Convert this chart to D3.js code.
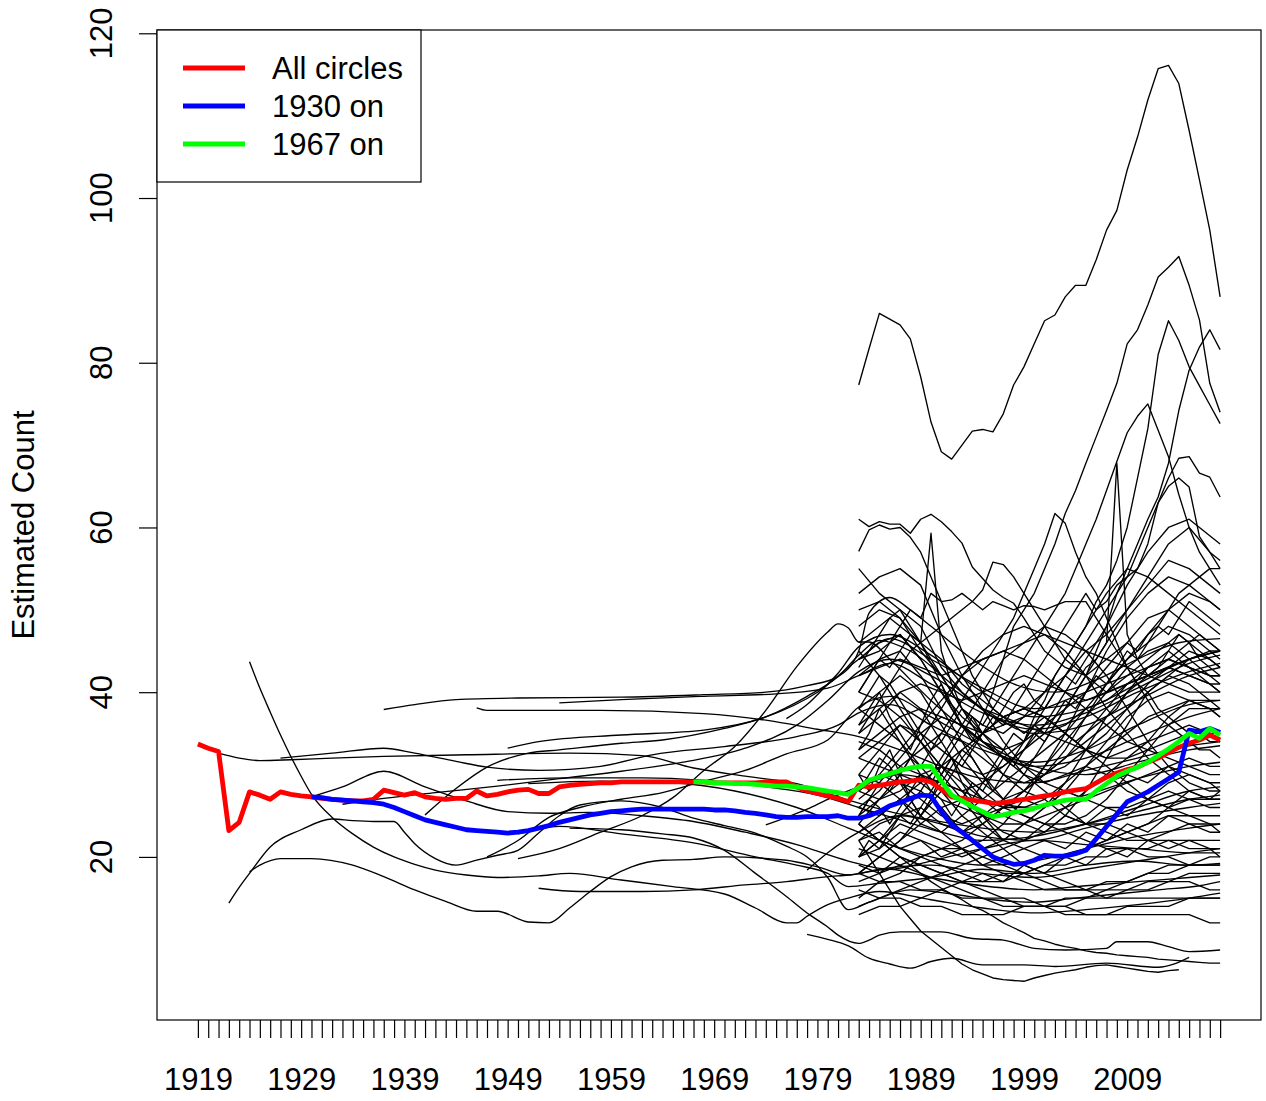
<!DOCTYPE html>
<html><head><meta charset="utf-8">
<script src="https://cdn.jsdelivr.net/npm/d3@7"></script>
<style>
body{margin:0;background:#fff}
svg{display:block}
text{font-family:"Liberation Sans",Arial,Helvetica,sans-serif;fill:#000}
</style>
</head><body>
<svg id="chart" width="1266" height="1101"></svg>
<script>
// ---------------- DATA ----------------
const yearTicks = d3.range(1919, 2019);
const yearLabels = [1919,1929,1939,1949,1959,1969,1979,1989,1999,2009];
const valueTicks = [20,40,60,80,100,120];
const legendLabels = ["All circles","1930 on","1967 on"];

const redStart = 1919;
const redValues = [
 33.7,33.2,32.8,23.2,24.2,27.9,27.5,27.0,27.9,27.6,
 27.4,27.3,27.1,27.0,26.9,26.8,26.8,27.0,28.1,27.8,
 27.5,27.8,27.3,27.1,27.0,27.1,27.1,28.0,27.4,27.6,
 27.9,28.1,28.2,27.7,27.7,28.5,28.7,28.8,28.9,29.0,
 29.0,29.1,29.1,29.1,29.1,29.1,29.1,29.1,29.1,29.1,
 29.0,29.0,29.0,29.0,29.0,29.1,29.1,29.1,28.5,28.0,
 27.7,27.4,27.1,26.7,28.7,28.5,28.7,28.9,29.1,29.2,
 29.4,29.1,28.2,27.3,27.1,26.9,26.7,26.5,26.6,26.8,
 27.0,27.2,27.4,27.6,27.9,28.1,28.3,29.0,29.7,30.2,
 30.6,30.9,31.5,32.0,32.7,33.3,33.8,34.2,34.8,34.2];

const blueStart = 1930;
const blueValues = [
 27.3,27.2,27.0,26.9,26.8,26.7,26.6,26.4,26.0,25.5,
 25.0,24.5,24.2,23.9,23.6,23.3,23.2,23.1,23.0,22.9,
 23.0,23.2,23.5,23.8,24.2,24.5,24.8,25.1,25.3,25.5,
 25.6,25.7,25.8,25.8,25.8,25.8,25.8,25.8,25.8,25.7,
 25.7,25.6,25.4,25.3,25.1,24.9,24.8,24.8,24.9,24.9,
 24.9,25.0,24.7,24.7,25.0,25.5,26.2,26.6,27.1,27.5,
 27.4,25.5,23.9,23.0,22.0,21.0,20.0,19.5,19.1,19.2,
 19.6,20.2,20.1,20.1,20.4,20.8,22.2,23.7,25.2,26.7,
 27.3,27.9,28.7,29.5,30.3,35.4,35.2,35.6,35.1];

const greenStart = 1967;
const greenValues = [
 29.1,29.1,29.0,29.0,28.9,28.9,28.8,28.7,28.6,28.6,
 28.5,28.4,28.2,28.0,27.8,27.6,28.4,29.3,29.7,30.1,
 30.5,30.8,31.0,31.0,29.2,27.5,26.8,26.1,25.5,24.9,
 25.1,25.4,25.6,25.9,26.3,26.6,26.9,27.0,27.0,28.0,
 28.9,29.8,30.4,30.9,31.5,32.3,33.1,34.0,35.0,34.4,
 35.6,34.8];

// long-running circles: [year, value] readings (smooth curves)
const longCircles = [
 [[1924,43.7],[1925,40.5],[1926,37.6],[1927,34.8],[1928,32.2],[1929,29.8],[1930,27.6],[1932,24.8],[1934,22.8],[1936,21.2],[1938,20.0],[1940,19.1],[1942,18.4],[1945,17.8],[1948,17.5],[1952,17.7],[1955,18.0],[1960,17.2],[1965,16.4],[1970,15.5],[1973,13.8],[1976,12.0],[1977,12.0],[1978,12.8],[1980,14.2],[1982,15.0],[1985,15.8],[1990,14.8],[1995,13.8],[2000,13.2],[2005,13.6],[2010,14.2],[2015,15.0],[2018,15.6]],
 [[1922,14.4],[1923,16.3],[1924,18.0],[1926,21.2],[1929,23.3],[1932,24.6],[1934,24.4],[1936,24.3],[1938,24.3],[1939,23.0],[1940,21.6],[1942,19.8],[1944,19.0],[1946,19.6],[1948,20.2],[1950,20.8],[1952,22.9],[1954,25.0],[1956,26.3],[1960,26.8],[1964,26.0],[1967,24.7],[1970,23.8],[1973,22.9],[1976,21.3],[1978,20.0],[1980,17.5],[1982,13.6],[1984,14.5],[1988,16.0],[1992,15.5],[1996,14.8],[2000,14.5],[2004,15.0],[2008,15.5],[2012,16.0],[2016,16.5],[2018,17.0]],
 [[1924,18.2],[1925,19.0],[1927,19.8],[1930,19.8],[1934,19.0],[1937,17.6],[1940,16.0],[1943,14.6],[1946,13.4],[1948,13.4],[1951,12.1],[1953,12.0],[1955,13.8],[1957,15.8],[1959,17.6],[1961,18.8],[1964,19.6],[1967,19.7],[1970,20.0],[1976,19.6],[1979,18.8],[1982,17.8],[1985,18.5],[1990,19.0],[1995,18.0],[2000,17.5],[2005,18.5],[2010,19.5],[2015,20.5],[2018,21.0]],
 [[1921,32.6],[1923,32.0],[1925,31.7],[1928,31.8],[1932,32.0],[1937,32.2],[1945,32.4],[1955,32.6],[1962,32.3],[1967,30.8],[1972,29.8],[1977,28.9],[1982,26.9],[1986,25.5],[1990,24.5],[1995,23.5],[2000,23.0],[2005,24.0],[2010,25.5],[2015,27.0],[2018,27.5]],
 [[1927,32.0],[1932,32.6],[1937,33.2],[1940,32.6],[1944,31.6],[1947,30.9],[1952,30.5],[1958,31.0],[1963,32.4],[1970,33.4],[1977,34.6],[1981,36.0],[1983,37.5],[1986,38.5],[1990,36.0],[1995,33.0],[2000,31.5],[2005,33.0],[2010,36.0],[2015,38.5],[2018,39.0]],
 [[1930,27.3],[1933,28.5],[1937,30.4],[1941,28.5],[1945,26.8],[1949,25.5],[1953,25.3],[1957,25.4],[1962,25.0],[1967,24.3],[1972,23.0],[1977,21.5],[1982,19.5],[1986,18.5],[1990,19.5],[1995,21.0],[2000,22.0],[2005,21.5],[2010,21.0],[2015,20.5],[2018,20.5]],
 [[1933,26.4],[1937,27.1],[1942,27.8],[1948,28.6],[1954,29.5],[1960,30.4],[1966,31.5],[1972,33.2],[1977,36.0],[1980,39.0],[1983,42.5],[1986,44.0],[1990,42.0],[1995,38.0],[2000,35.0],[2005,36.0],[2010,39.0],[2015,42.0],[2018,43.0]],
 [[1937,37.9],[1940,38.5],[1944,39.1],[1950,39.3],[1960,39.4],[1968,39.7],[1974,40.0],[1978,40.8],[1981,41.9],[1983,45.0],[1984,49.6],[1986,51.5],[1988,50.0],[1990,48.0],[1994,44.0],[1998,41.0],[2002,40.0],[2006,41.5],[2010,44.0],[2014,46.0],[2018,46.5]],
 [[1946,38.1],[1947,37.8],[1958,37.8],[1968,37.4],[1974,36.6],[1979,35.5],[1983,34.6],[1987,33.0],[1991,31.0],[1995,29.5],[2000,29.0],[2005,30.5],[2010,32.0],[2015,33.5],[2018,34.0]],
 [[1954,38.7],[1960,39.1],[1968,39.5],[1975,39.8],[1980,40.5],[1983,42.0],[1986,43.5],[1990,41.0],[1995,37.5],[2000,36.0],[2005,37.5],[2010,40.5],[2015,43.5],[2018,44.5]],
 [[1949,33.2],[1952,34.0],[1960,34.8],[1968,35.4],[1974,37.0],[1979,40.0],[1983,44.0],[1986,46.5],[1990,44.0],[1995,40.5],[2000,38.0],[2005,39.0],[2010,41.5],[2015,44.0],[2018,45.0]],
 [[1941,25.1],[1944,28.3],[1947,30.9],[1951,32.6],[1954,33.0],[1960,33.8],[1964,34.2],[1970,35.6],[1974,37.0],[1978,39.5],[1981,41.9],[1983,44.5],[1985,46.3],[1988,45.0],[1992,41.0],[1996,37.0],[2000,35.5],[2005,37.0],[2010,40.0],[2015,42.5],[2018,43.5]],
 [[1952,16.2],[1956,15.8],[1962,15.8],[1967,16.0],[1972,16.6],[1976,17.0],[1980,17.6],[1982,17.8],[1986,18.5],[1990,17.5],[1995,16.5],[2000,16.0],[2005,16.5],[2010,17.0],[2015,17.5],[2018,17.8]],
 [[1947,20.0],[1950,22.0],[1953,24.8],[1956,26.0],[1960,27.0],[1964,27.8],[1968,29.2],[1972,30.5],[1976,32.5],[1980,34.2],[1983,38.2],[1986,39.5],[1990,37.0],[1995,33.5],[2000,31.0],[2005,32.0],[2010,34.5],[2015,37.0],[2018,38.0]],
 [[1950,19.8],[1954,21.0],[1958,23.0],[1962,25.0],[1965,27.2],[1968,30.5],[1971,33.4],[1974,37.8],[1977,43.1],[1980,47.3],[1981,48.3],[1982,47.8],[1983,46.1],[1984,46.1],[1986,44.0],[1990,39.0],[1995,34.0],[2000,31.0],[2005,30.0],[2010,31.5],[2015,33.0],[2018,33.5]],
 [[1948,29.3],[1955,29.6],[1962,29.6],[1968,29.3],[1974,28.5],[1979,27.5],[1983,26.0],[1987,24.5],[1991,23.0],[1995,22.0],[2000,22.5],[2005,24.0],[2010,26.0],[2015,28.0],[2018,28.5]],
 [[1951,28.9],[1958,29.2],[1965,29.0],[1971,28.0],[1977,26.0],[1982,23.5],[1986,21.5],[1990,20.0],[1995,19.0],[2000,19.5],[2005,21.0],[2010,22.5],[2015,23.5],[2018,24.0]],
 [[1950,22.8],[1954,23.7],[1960,22.8],[1967,21.7],[1973,20.0],[1977,19.0],[1980,18.0],[1982,16.4],[1985,16.8],[1990,17.5],[1995,18.5],[2000,18.0],[2005,19.0],[2010,19.5],[2015,19.0],[2018,19.2]],
 [[1955,23.5],[1960,23.3],[1964,22.8],[1967,22.3],[1970,20.8],[1973,18.0],[1976,15.2],[1978,13.2],[1980,11.5],[1981,10.5],[1983,9.5],[1984,9.9],[1985,10.5],[1987,10.9],[1991,10.9],[1994,10.1],[1997,9.9],[2000,8.9],[2003,8.7],[2007,8.9],[2008,9.7],[2011,9.7],[2013,9.1],[2015,8.5],[2018,8.7]],
 [[1978,10.6],[1980,10.0],[1982,9.2],[1984,7.7],[1986,7.0],[1988,6.5],[1990,7.3],[1992,7.7],[1995,6.9],[1999,6.9],[2002,6.7],[2007,7.1],[2012,6.6],[2015,7.8]],
 [[1976,36.8],[1978,38.5],[1980,41.0],[1981,42.3],[1983,45.5],[1986,47.0],[1990,44.5],[1995,40.0],[2000,37.0],[2005,38.0],[2010,41.0],[2015,44.0],[2018,45.0]],
 [[1974,23.9],[1976,24.8],[1978,25.8],[1980,27.0],[1983,28.5],[1987,30.0],[1991,29.0],[1995,27.0],[2000,26.0],[2005,27.5],[2010,29.5],[2015,31.0],[2018,31.5]],
 [[1978,18.4],[1980,20.5],[1983,23.0],[1987,25.0],[1991,24.0],[1995,22.5],[2000,22.0],[2005,23.5],[2010,25.0],[2015,26.0],[2018,26.5]]
];

// circles with yearly readings from 1983
const yearlyFrom = 1983;
const yearlyCircles = [
 [77.3,81.7,86.0,85.3,84.6,82.9,78.3,72.8,69.2,68.3,70.0,71.7,71.9,71.6,73.8,77.3,79.5,82.3,85.1,85.8,88.0,89.4,89.4,92.5,96.1,98.5,103.4,107.4,111.9,115.7,116.1,113.9,108.2,102.2,96.1,88.0],
 [36,38,40,37,35,33,36,39,41,38,36,34,37,40,44,48,50,52,55,58,61.7,64.5,67.8,71,74.2,77.5,82.3,84,87,90.4,91.6,92.9,89.4,85.2,77.5,74],
 [30,28,31,33,30,27,25,27,30,32,29,27,29,31,33,35,34,37,39,42,44,46,48,51,53,56,60,66,72,81,85.1,82.7,79.5,77.2,74.9,72.6],
 [25,27,26,24,26,28,30,29,31,33,35,37,36,38,40,42,44,46,48,50,52,55,58,61,64.5,68,71.5,73.5,75,71.8,68.6,64,60,57,55,53],
 [20,22,21,23,25,24,26,28,27,25,27,29,28,30,32,31,33,35,34,36,38,40,42,45,48,52,55,58,61,63.7,67.8,74.2,79.1,81.9,84,81.6],
 [33,35,38,36,34,32,30,28,30,32,31,33,35,37,36,38,40,42,44,46,48,50,52,50,51,53,54,55,58,63,66,68.4,68.6,66.6,66.1,63.7],
 [28,30,32,31,29,27,25,27,29,31,33,32,30,28,30,32,34,36,38,40,42,44,46,48,50,52,54,57,60,63,65,66,64.9,58.9,57,56],
 [38,40,42,41,39,37,35,33,34,36,38,37,35,36,38,40,41,39,38,40,42,41,43,44,46,67.8,47,44,42,43,45,47,46,44,43,42],
 [40,42,44,43,45,47,46,59.3,45,41,38,36,34,33,32,33,34,36,35,37,39,38,40,42,41,43,45,44,46,48,47,49,51,50,49,48],
 [61.0,60.1,60.7,60.4,60.4,59.3,61.0,61.6,60.7,59.5,58.1,55.2,53.8,52.4,51.5,50.8,49,47,45,44,43,42.5,42,43,44,45,46,45,47,48,50,52,53,54,55,55],
 [57.1,59.7,60.3,59.8,60.0,58.8,57,54,51,48,45,42,40,38,37,36,35,36,37,36,35,34,35,36,37,38,40,41,42,43,44,45,46,47,46,45],
 [43,45,47,49,48,50,49,52,51,51.2,52,51,50,51,50.5,50,50.5,50.4,50,50.5,51,51,51,49,47,45,43,41,40,38,37,36,35,35,34,34],
 [35,37,39,41,43,45,46,47,48,49,50,51,52.4,55.8,55.5,54,52,50,48,46,44,43,42,41,40,41,42,43,44,45,46,47,46,45,44,43],
 [25,27,29,28,30,32,31,33,35,37,39,41,43,45,47,49,52,55,58,61.7,60.5,57,54,52,49,46,43,41,39,37,36,35,34,33,33,32],
 [22,20,18,16,14,12.5,11,10,9,8,7,6.3,5.8,5.3,5.1,5.0,4.9,5.3,5.6,5.9,6.1,6.3,6.6,6.8,6.9,6.7,6.5,6.3,6.1,6.0,6.2,6.3],
 [24,23,22,21,20,19,18,17,16.2,15.5,14.8,14.0,13.5,12.8,12.0,11.4,10.8,10.1,9.8,9.4,9.1,8.9,8.6,8.4,8.3,8.1,8.0,7.9,7.8,7.6,7.5,7.4,7.3,7.2,7.1,7.1]
];

// circles read every other year
const sparseYears = [1983,1985,1987,1989,1991,1993,1995,1997,1999,2001,2003,2005,2007,2009,2011,2013,2015,2017,2018];
const sparseCircles = [
 [52,54,55,53,47,42,38,34,31,29,28,27,26,26,27,28,27,26,26],
 [48,50,49,45,42,38,35,33,30,28,26,24,23,22,22,23,24,23,23],
 [44,46,47,44,40,37,35,32,30,29,30,31,30,28,27,29,30,29,28],
 [55,52,50,46,41,36,33,30,28,27,25,24,24,23,22,22,21,21,20],
 [42,44,45,42,38,34,30,27,25,24,23,22,21,21,20,20,19,19,19],
 [50,51,49,46,44,41,39,37,36,35,34,33,32,33,34,35,36,35,34],
 [40,44,48,46,42,38,36,35,37,40,44,48,52,55,54,52,50,48,47],
 [46,48,50,48,43,40,38,37,38,40,42,45,47,50,53,56,55,53,52],
 [38,40,42,40,36,32,29,27,28,30,33,37,41,44,46,48,47,45,44],
 [35,37,40,38,34,30,27,25,24,26,29,33,37,40,43,45,43,41,40],
 [44,45,47,44,40,36,34,33,34,36,38,40,43,46,49,50,48,46,45],
 [30,33,36,34,31,28,25,23,22,23,25,28,32,36,40,42,41,39,38],
 [18,20,22,24,23,25,27,29,31,33,35,38,41,44,47,50,52,51,50],
 [15,17,18,20,21,22,24,26,28,30,32,34,36,38,40,42,44,45,45],
 [22,24,25,26,24,23,24,26,28,31,34,37,40,43,45,46,44,42,41],
 [20,21,23,22,21,20,21,22,24,26,28,31,34,37,39,40,39,38,37],
 [14,15,16,17,18,19,20,21,22,24,26,28,30,32,33,34,35,35,35],
 [25,27,28,30,29,28,29,31,33,35,36,38,39,41,42,43,42,41,40],
 [24,27,30,34,38,42,45,47,48,47,45,42,38,35,32,30,28,27,27],
 [20,22,25,28,32,36,40,44,46,48,47,45,42,38,34,31,29,28,28],
 [28,30,33,36,39,42,44,45,44,42,40,38,36,34,33,32,31,30,30],
 [18,20,22,25,28,32,35,37,38,37,35,33,31,29,27,26,25,25,25],
 [26,25,27,24,26,23,25,22,24,23,25,24,26,25,27,26,28,27,27],
 [22,23,21,22,20,21,19,20,21,22,21,23,22,24,23,25,24,24,23],
 [28,27,29,28,26,27,25,26,27,26,28,27,29,30,29,31,30,29,29],
 [19,18,20,19,18,17,18,17,19,18,20,19,21,20,22,21,22,21,21],
 [32,31,30,29,27,26,25,24,24,25,26,27,28,29,30,31,32,31,31],
 [24,22,21,20,19,18,17,17,18,19,20,21,22,23,24,26,27,27,28],
 [16,15,15,14,14,13,13,13,14,14,15,15,16,16,17,17,18,18,18],
 [21,20,19,18,17,16,15,15,14,14,14,15,15,16,16,17,17,16,16],
 [18,17,17,16,16,15,15,14,14,14,13,13,13,14,14,14,15,15,15],
 [13,14,14,15,16,17,17,18,18,19,19,20,20,21,21,22,22,22,22],
 [24,22,20,19,18,17,16,15,15,14,14,13,13,13,13,13,13,12,12],
 [17,18,19,20,21,21,20,19,18,17,16,16,15,15,15,15,15,15,15],
 [28,30,29,27,25,24,25,27,30,34,38,42,46,50,54,58,60,57,55],
 [32,34,36,35,33,31,30,31,33,36,40,44,48,53,57,60,61,59,58],
 [20,22,24,23,22,21,22,24,27,31,35,40,45,49,52,54,53,51,50],
 [36,38,40,41,40,39,40,41,42,41,40,39,40,41,42,43,42,41,41],
 [42,43,44,43,42,43,44,45,46,47,46,45,44,43,42,41,40,40,40],
 [33,35,37,38,37,36,35,36,37,38,39,40,41,42,43,44,43,42,42],
 [38,36,34,31,28,25,23,21,19,18,17,16,16,17,18,18,19,19,19],
 [30,29,27,25,23,21,19,18,17,16,16,16,17,17,18,19,19,20,20],
 [45,42,38,34,30,27,24,22,21,20,20,21,22,23,24,25,25,24,24],
 [27,29,32,35,37,36,34,32,31,30,31,33,35,38,41,43,45,44,43],
 [34,33,31,30,31,33,35,37,38,37,35,33,32,32,34,37,39,38,38],
 [23,25,27,29,31,30,28,26,25,24,24,25,27,30,33,36,38,38,37],
 [40,39,37,34,31,29,27,26,26,27,29,31,33,35,37,38,39,39,39],
 [26,28,31,33,35,34,32,30,29,30,32,35,38,41,43,44,43,42,42]
];

// ---------------- DRAW ----------------
const svg = d3.select("#chart");
svg.append("rect").attr("width",1266).attr("height",1101).attr("fill","#fff");

const x = d3.scaleLinear().domain([1915.04, 2021.96]).range([157, 1261]);
const y = d3.scaleLinear().domain([0.2, 120.4]).range([1020, 30]);

const line = d3.line().x(d => x(d[0])).y(d => y(d[1]));
const smooth = d3.line().x(d => x(d[0])).y(d => y(d[1])).curve(d3.curveMonotoneX);

const plot = svg.append("g");
plot.append("clipPath").attr("id","clip").append("rect")
  .attr("x",157).attr("y",30).attr("width",1104).attr("height",990);
const lines = plot.append("g").attr("clip-path","url(#clip)");

const black = {fill:"none", stroke:"#000", width:1.35};
longCircles.forEach(s => {
  lines.append("path").attr("d", smooth(s)).attr("fill","none")
    .attr("stroke","#000").attr("stroke-width",black.width).attr("stroke-linejoin","round");
});
yearlyCircles.forEach(v => {
  const pts = v.map((val,i) => [yearlyFrom + i, val]);
  lines.append("path").attr("d", line(pts)).attr("fill","none")
    .attr("stroke","#000").attr("stroke-width",black.width).attr("stroke-linejoin","round");
});
sparseCircles.forEach(v => {
  const pts = v.map((val,i) => [sparseYears[i], val]);
  lines.append("path").attr("d", line(pts)).attr("fill","none")
    .attr("stroke","#000").attr("stroke-width",black.width).attr("stroke-linejoin","round");
});

function drawMain(start, values, color) {
  const pts = values.map((v,i) => [start + i, v]);
  lines.append("path").attr("d", line(pts)).attr("fill","none")
    .attr("stroke", color).attr("stroke-width", 4.8)
    .attr("stroke-linejoin","round").attr("stroke-linecap","butt");
}
drawMain(redStart, redValues, "#ff0000");
drawMain(blueStart, blueValues, "#0000ff");
drawMain(greenStart, greenValues, "#00ff00");

// box
svg.append("rect").attr("x",157).attr("y",30).attr("width",1104).attr("height",990)
  .attr("fill","none").attr("stroke","#000").attr("stroke-width",1.2);

// x axis
const xAxis = d3.axisBottom(x).tickValues(yearTicks).tickSize(18).tickPadding(30)
  .tickFormat(d => yearLabels.includes(d) ? String(d) : "");
const gx = svg.append("g").attr("transform","translate(0,1020)").call(xAxis);
gx.select(".domain").remove();
gx.selectAll(".tick line").attr("stroke","#000").attr("stroke-width",1.2);
gx.selectAll(".tick text").attr("font-size",31).attr("fill","#000")
  .style("font-family","'Liberation Sans',Arial,sans-serif");

// y axis
const yAxis = d3.axisLeft(y).tickValues(valueTicks).tickSize(18).tickFormat("");
const gy = svg.append("g").attr("transform","translate(157,0)").call(yAxis);
gy.select(".domain").remove();
gy.selectAll(".tick line").attr("stroke","#000").attr("stroke-width",1.2);
svg.append("g").selectAll("text").data(valueTicks).join("text")
  .attr("transform", d => `translate(112,${y(d)}) rotate(-90)`)
  .attr("text-anchor","middle").attr("font-size",31).text(d => d);

svg.append("text").attr("transform","translate(34,525) rotate(-90)")
  .attr("text-anchor","middle").attr("font-size",31).text("Estimated Count");

// legend
const lg = svg.append("g");
lg.append("rect").attr("x",157).attr("y",30).attr("width",264).attr("height",152)
  .attr("fill","#fff").attr("stroke","#000").attr("stroke-width",1.2);
const legendColors = ["#ff0000","#0000ff","#00ff00"];
legendLabels.forEach((t,i) => {
  const cy = 68 + i*38;
  lg.append("line").attr("x1",183).attr("x2",245).attr("y1",cy).attr("y2",cy)
    .attr("stroke",legendColors[i]).attr("stroke-width",4.8);
  lg.append("text").attr("x",272).attr("y",cy+11).attr("font-size",31).text(t);
});
</script>
</body></html>
